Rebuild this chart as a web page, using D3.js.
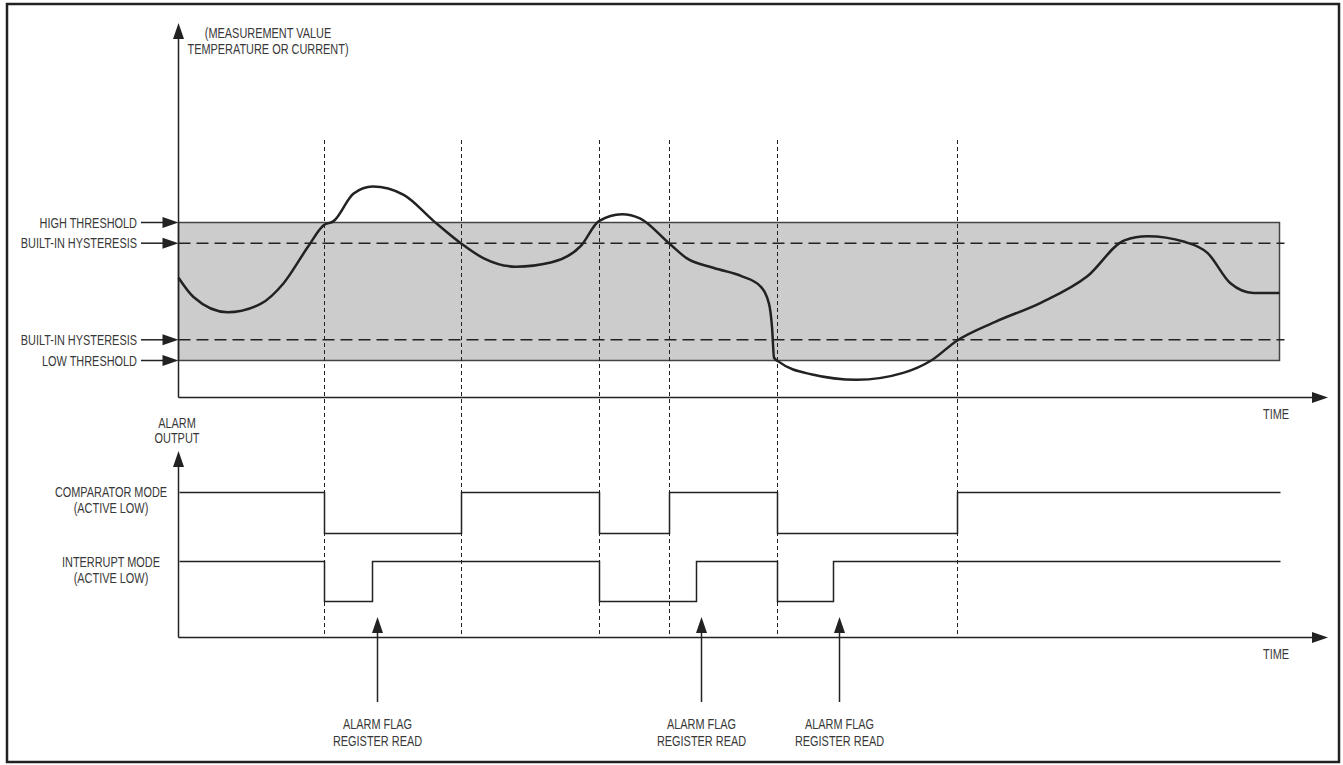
<!DOCTYPE html>
<html>
<head>
<meta charset="utf-8">
<script src="https://cdn.jsdelivr.net/npm/d3@7/dist/d3.min.js"></script>
<style>
  body { margin: 0; background: #fff; }
  svg text {
    font-family: "Liberation Sans", Arial, sans-serif;
    font-size: 14px;
    fill: #383838;
  }
</style>
</head>
<body>
<svg id="chart" width="1343" height="765"></svg>
<script>
// measurement curve (time, value) -- low threshold = 0, high threshold = 100
var curveTime = [0, 15, 49, 82, 105, 129, 145, 155, 175, 194, 225, 255, 282, 305, 337, 372, 402,
  420, 443, 461, 490, 508, 535, 563, 581, 590, 593, 595, 600, 632, 678, 724, 752, 777, 816, 862,
  908, 945, 968, 1005, 1028, 1051, 1074, 1100];
var curveValue = [60, 46, 35, 41, 56, 82, 98, 101, 121, 126, 120, 101, 85, 74, 68, 71, 83,
  101, 106, 103, 85, 74, 67, 61, 54, 41, 24, 2, -1, -10, -14, -9, 0, 14, 28, 42,
  61, 87, 90, 86, 78, 56, 49, 49];

// threshold levels and their labels
var thresholdValues = [100, 85, 15, 0];
var thresholdLabels = ["HIGH THRESHOLD", "BUILT-IN HYSTERESIS", "BUILT-IN HYSTERESIS", "LOW THRESHOLD"];

// times where the curve crosses a threshold (dotted markers)
var eventTimes = [145, 282, 420, 490, 598, 778];

// alarm outputs: intervals where the output is pulled low
var comparatorLow = [[145, 282], [420, 490], [598, 778]];
var interruptLow = [[145, 193], [420, 517], [598, 654]];

// alarm flag register reads
var readTimes = [198, 522, 660];

var timeEnd = 1100;

var svg = d3.select("#chart");
var ink = "#222";

var x = d3.scaleLinear().domain([0, timeEnd]).range([178.5, 1279.5]);
var y = d3.scaleLinear().domain([0, 100]).range([360.5, 222.5]);
var yComp = d3.scaleLinear().domain([0, 1]).range([533.5, 492.5]);
var yInt = d3.scaleLinear().domain([0, 1]).range([601.5, 561.5]);

// frame
svg.append("rect")
  .attr("x", 7).attr("y", 4)
  .attr("width", 1332).attr("height", 758)
  .attr("fill", "none")
  .attr("stroke", ink)
  .attr("stroke-width", 2.5);

// gray band between low and high threshold
svg.append("rect")
  .attr("x", x(0)).attr("y", y(100))
  .attr("width", x(timeEnd) - x(0))
  .attr("height", y(0) - y(100))
  .attr("fill", "#cccccc")
  .attr("stroke", "#444")
  .attr("stroke-width", 1.5);

// hysteresis lines
svg.selectAll(".hyst")
  .data([85, 15])
  .enter().append("line")
  .attr("class", "hyst")
  .attr("x1", x(0)).attr("x2", x(timeEnd) + 5)
  .attr("y1", function (d) { return y(d); })
  .attr("y2", function (d) { return y(d); })
  .attr("stroke", ink)
  .attr("stroke-width", 1.5)
  .attr("stroke-dasharray", "12,6");

// dotted event markers
svg.selectAll(".event")
  .data(eventTimes)
  .enter().append("line")
  .attr("class", "event")
  .attr("x1", function (d) { return Math.round(x(d)) + 0.5; })
  .attr("x2", function (d) { return Math.round(x(d)) + 0.5; })
  .attr("y1", 140).attr("y2", 634)
  .attr("stroke", ink)
  .attr("stroke-width", 1)
  .attr("stroke-dasharray", "4,3");

// measurement curve
var curvePts = curveTime.map(function (t, i) { return [t, curveValue[i]]; });
var line = d3.line()
  .x(function (d) { return x(d[0]); })
  .y(function (d) { return y(d[1]); })
  .curve(d3.curveMonotoneX);

svg.append("path")
  .datum(curvePts)
  .attr("d", line)
  .attr("fill", "none")
  .attr("stroke", ink)
  .attr("stroke-width", 2.5);

//
// arrow helpers
//
function arrowHead(tx, ty, dir) {
  var len = 16, w = 5.5, pts;
  if (dir == "up") pts = [[tx, ty], [tx - w, ty + len], [tx + w, ty + len]];
  else pts = [[tx, ty], [tx - len, ty - w], [tx - len, ty + w]];
  svg.append("path")
    .attr("d", "M" + pts.join("L") + "Z")
    .attr("fill", ink);
}

function segment(x1, y1, x2, y2, w) {
  svg.append("line")
    .attr("x1", x1).attr("y1", y1)
    .attr("x2", x2).attr("y2", y2)
    .attr("stroke", ink)
    .attr("stroke-width", w || 1.5);
}

// condensed label: horizontal squeeze keeps the narrow look of the original
function label(tx, ty, str, anchor) {
  return svg.append("text")
    .attr("transform", "translate(" + tx + "," + ty + ") scale(0.78,1)")
    .attr("text-anchor", anchor || "middle")
    .text(str);
}

// upper axes
segment(x(0), 30, x(0), 397.5);
arrowHead(x(0), 23, "up");
segment(x(0), 397.5, 1315, 397.5);
arrowHead(1328, 397.5, "right");

// lower axes
segment(x(0), 460, x(0), 637.5);
arrowHead(x(0), 451, "up");
segment(x(0), 637.5, 1315, 637.5);
arrowHead(1328, 637.5, "right");

// threshold pointers and labels
thresholdValues.forEach(function (v, i) {
  segment(141, y(v), 166, y(v));
  arrowHead(x(0), y(v), "right");
  label(137, y(v) + 5, thresholdLabels[i], "end");
});

// alarm output step lines
function stepPoints(lows) {
  var pts = [[0, 1]];
  lows.forEach(function (iv) {
    pts.push([iv[0], 1], [iv[0], 0], [iv[1], 0], [iv[1], 1]);
  });
  pts.push([timeEnd, 1]);
  return pts;
}

[[comparatorLow, yComp], [interruptLow, yInt]].forEach(function (s) {
  var ys = s[1];
  var step = d3.line()
    .x(function (d) { return Math.round(x(d[0])) + 0.5; })
    .y(function (d) { return ys(d[1]); });
  svg.append("path")
    .datum(stepPoints(s[0]))
    .attr("d", step)
    .attr("fill", "none")
    .attr("stroke", ink)
    .attr("stroke-width", 1.5);
});

// register read arrows
readTimes.forEach(function (t) {
  var rx = Math.round(x(t)) + 0.5;
  segment(rx, 630, rx, 702);
  arrowHead(rx, 617, "up");
  label(rx, 729, "ALARM FLAG");
  label(rx, 746, "REGISTER READ");
});

// remaining labels
label(268, 38, "(MEASUREMENT VALUE");
label(268, 54, "TEMPERATURE OR CURRENT)");
label(1276, 419, "TIME");
label(1276, 659, "TIME");
label(177, 428, "ALARM");
label(177, 443, "OUTPUT");
label(111, 497, "COMPARATOR MODE");
label(111, 513, "(ACTIVE LOW)");
label(111, 567, "INTERRUPT MODE");
label(111, 583, "(ACTIVE LOW)");
</script>
</body>
</html>
